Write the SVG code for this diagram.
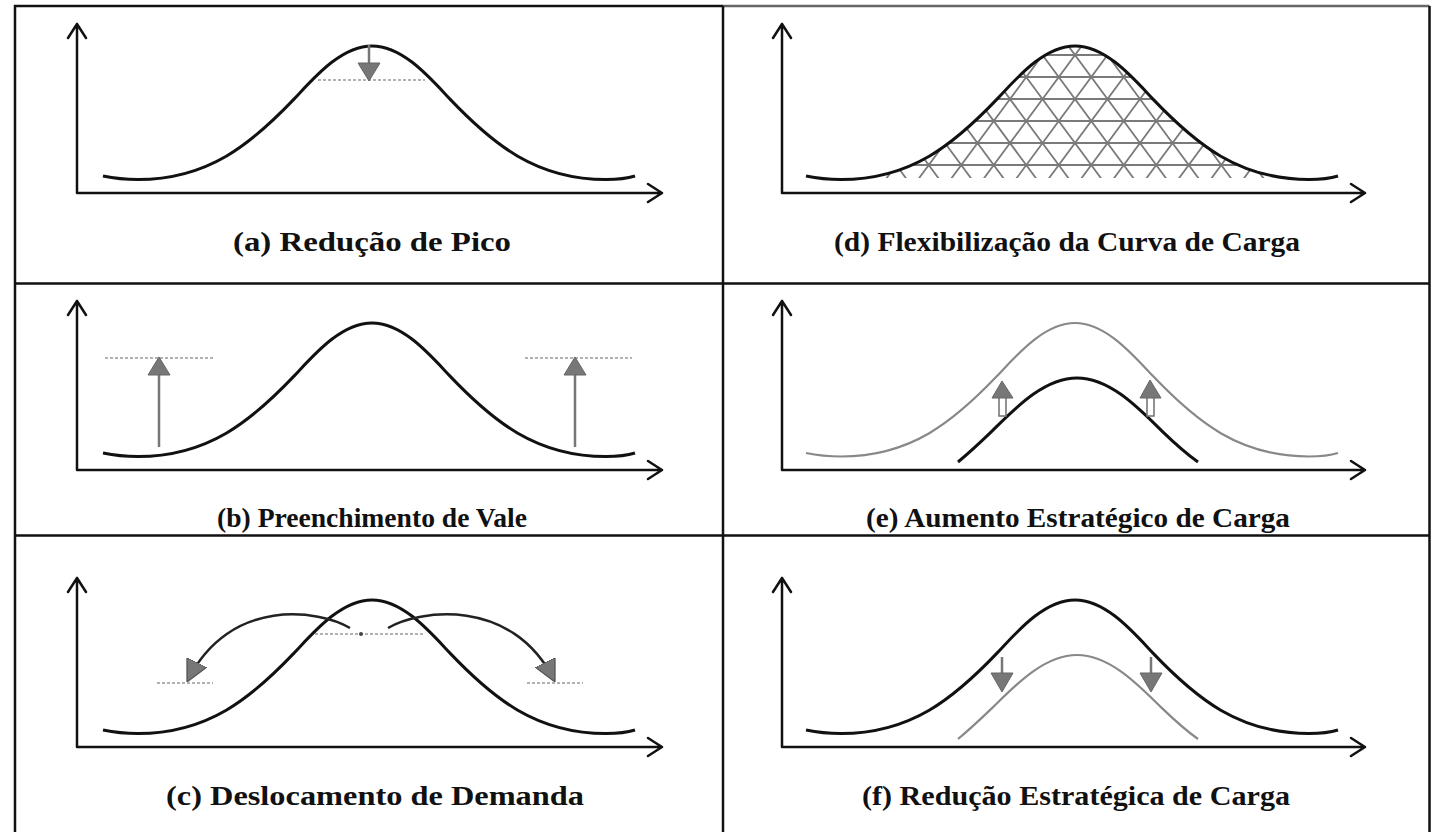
<svg xmlns="http://www.w3.org/2000/svg" width="1443" height="832" viewBox="0 0 1443 832">
<style>
.frame{fill:none;stroke:#111;stroke-width:2.5}
.axis{fill:none;stroke:#111;stroke-width:2.5;stroke-linecap:round;stroke-linejoin:round}
.curve{fill:none;stroke:#111;stroke-width:3}
.gcurve{fill:none;stroke:#888;stroke-width:2.2}
.dot{fill:none;stroke:#999;stroke-width:1.6;stroke-dasharray:3 2}
.gshaft{fill:none;stroke:#777;stroke-width:2.5}
.ghead{fill:#777;stroke:#666;stroke-width:1}
.arc{fill:none;stroke:#222;stroke-width:2.5}
.hatch{fill:none;stroke:#7a7a7a;stroke-width:1.8}
.lbl{font-family:"Liberation Serif","Times New Roman",serif;font-weight:bold;font-size:27px;fill:#111;text-anchor:middle}
</style>
<defs>
<path id="bell" d="M-269,130 C-257,132.5 -245,133.5 -234,133.5 C-163.8,133.5 -120.9,98.1 -78,53.1 C-58.5,32.5 -31.2,0 0,0 C31.2,0 58.5,32.5 78,53.1 C120.9,98.1 163.8,133.5 234,133.5 C245,133.5 255,132.5 263,130"/>
<path id="inner" d="M-119,84 C-107.7,74.6 -96.3,64 -85,53.1 C-63.75,32.5 -34,0 0,0 C34,0 63.75,32.5 85,53.1 C96.3,64 107.7,74.6 121,84"/>
<g id="axesL">
<path d="M77,193 V24 M68,38 L77,24 L86,38 M77,193 H662 M648,184 L662,193 L648,202"/>
</g>
<g id="axesR">
<path d="M782,193 V24 M773,38 L782,24 L791,38 M782,193 H1365 M1351,184 L1365,193 L1351,202"/>
</g>
<clipPath id="hatchClip">
<path transform="translate(1075,46)" d="M-269,132 L-269,130 C-257,132.5 -245,133.5 -234,133.5 C-163.8,133.5 -120.9,98.1 -78,53.1 C-58.5,32.5 -31.2,0 0,0 C31.2,0 58.5,32.5 78,53.1 C120.9,98.1 163.8,133.5 234,133.5 C245,133.5 255,132.5 263,130 L263,132 Z"/>
</clipPath>
<marker id="ah" viewBox="0 0 10 10" refX="9" refY="5" markerUnits="userSpaceOnUse" markerWidth="22" markerHeight="22" orient="auto">
<path d="M0,0 L10,5 L0,10 z" fill="#777" stroke="#555" stroke-width="0.6"/>
</marker>
</defs>

<g id="frame">
<path class="frame" d="M15,832 V6 H723"/>
<path d="M723,6 H1429.5" fill="none" stroke="#666" stroke-width="2.5"/>
<path class="frame" d="M1429.5,6 V832 M723,6 V832 M15,283.5 H1429.5 M15,535.5 H1429.5"/>
</g>

<g id="panel-a">
<use href="#axesL" class="axis"/>
<line class="dot" x1="318" y1="80" x2="425" y2="80"/>
<use href="#bell" class="curve" transform="translate(372,46)"/>
<line class="gshaft" x1="369" y1="45" x2="369" y2="65"/>
<polygon class="ghead" points="358,63 380,63 369,81"/>
<text class="lbl" x="372" y="251" textLength="278" lengthAdjust="spacingAndGlyphs">(a) Redução de Pico</text>
</g>

<g id="panel-b">
<use href="#axesL" class="axis" transform="translate(0,277)"/>
<line class="dot" x1="105" y1="358" x2="215" y2="358"/>
<line class="dot" x1="525" y1="358" x2="632" y2="358"/>
<use href="#bell" class="curve" transform="translate(372,323)"/>
<line class="gshaft" x1="159" y1="447" x2="159" y2="373"/>
<polygon class="ghead" points="148,375 170,375 159,357"/>
<line class="gshaft" x1="575" y1="447" x2="575" y2="373"/>
<polygon class="ghead" points="564,375 586,375 575,357"/>
<text class="lbl" x="372" y="527" textLength="310" lengthAdjust="spacingAndGlyphs">(b) Preenchimento de Vale</text>
</g>

<g id="panel-c">
<use href="#axesL" class="axis" transform="translate(0,554)"/>
<line class="dot" x1="315" y1="634" x2="425" y2="634"/>
<circle cx="361" cy="634" r="2" fill="#444"/>
<line class="dot" x1="157" y1="683" x2="213" y2="683"/>
<line class="dot" x1="527" y1="683" x2="583" y2="683"/>
<use href="#bell" class="curve" transform="translate(372,600)"/>
<text class="lbl" x="375" y="805" textLength="418" lengthAdjust="spacingAndGlyphs">(c) Deslocamento de Demanda</text>
</g>

<g id="panel-d">
<use href="#axesR" class="axis"/>
<path class="hatch" clip-path="url(#hatchClip)" d="M764,30 l118.19,160 M796.5,30 l118.19,160 M829,30 l118.19,160 M861.5,30 l118.19,160 M894,30 l118.19,160 M926.5,30 l118.19,160 M959,30 l118.19,160 M991.5,30 l118.19,160 M1024,30 l118.19,160 M1056.5,30 l118.19,160 M1089,30 l118.19,160 M1121.5,30 l118.19,160 M1154,30 l118.19,160 M1186.5,30 l118.19,160 M1219,30 l118.19,160 M1251.5,30 l118.19,160 M1284,30 l118.19,160 M1316.5,30 l118.19,160 M1349,30 l118.19,160 M801,30 l-118.19,160 M833.5,30 l-118.19,160 M866,30 l-118.19,160 M898.5,30 l-118.19,160 M931,30 l-118.19,160 M963.5,30 l-118.19,160 M996,30 l-118.19,160 M1028.5,30 l-118.19,160 M1061,30 l-118.19,160 M1093.5,30 l-118.19,160 M1126,30 l-118.19,160 M1158.5,30 l-118.19,160 M1191,30 l-118.19,160 M1223.5,30 l-118.19,160 M1256,30 l-118.19,160 M1288.5,30 l-118.19,160 M1321,30 l-118.19,160 M1353.5,30 l-118.19,160 M1386,30 l-118.19,160 M1418.5,30 l-118.19,160 M800,55 H1350 M800,77 H1350 M800,99 H1350 M800,121 H1350 M800,143 H1350 M800,165 H1350"/>
<use href="#bell" class="curve" transform="translate(1075,46)"/>
<text class="lbl" x="1067" y="251" textLength="466" lengthAdjust="spacingAndGlyphs">(d) Flexibilização da Curva de Carga</text>
</g>

<g id="panel-e">
<use href="#axesR" class="axis" transform="translate(0,277)"/>
<use href="#bell" class="gcurve" transform="translate(1075,323)"/>
<use href="#inner" class="curve" transform="translate(1077,378)"/>
<rect x="999" y="397" width="7" height="19" fill="#fff" stroke="#777" stroke-width="1.6"/>
<polygon class="ghead" points="992,398 1013,398 1002,381"/>
<rect x="1147" y="397" width="7" height="19" fill="#fff" stroke="#777" stroke-width="1.6"/>
<polygon class="ghead" points="1140,398 1161,398 1150,380"/>
<text class="lbl" x="1078" y="527" textLength="424" lengthAdjust="spacingAndGlyphs">(e) Aumento Estratégico de Carga</text>
</g>

<g id="panel-f">
<use href="#axesR" class="axis" transform="translate(0,554)"/>
<use href="#bell" class="curve" transform="translate(1075,600)"/>
<use href="#inner" class="gcurve" transform="translate(1077,655)"/>
<line class="gshaft" x1="1002" y1="657" x2="1002" y2="675"/>
<polygon class="ghead" points="991,673 1013,673 1002,692"/>
<line class="gshaft" x1="1151" y1="657" x2="1151" y2="675"/>
<polygon class="ghead" points="1140,673 1162,673 1151,692"/>
<text class="lbl" x="1076" y="805" textLength="428" lengthAdjust="spacingAndGlyphs">(f) Redução Estratégica de Carga</text>
</g>

<g id="connectors">
<path class="arc" d="M350,628 C320,610 230,596 188,680" marker-end="url(#ah)"/>
<path class="arc" d="M388,628 C418,610 512,596 554,680" marker-end="url(#ah)"/>
</g>
</svg>
